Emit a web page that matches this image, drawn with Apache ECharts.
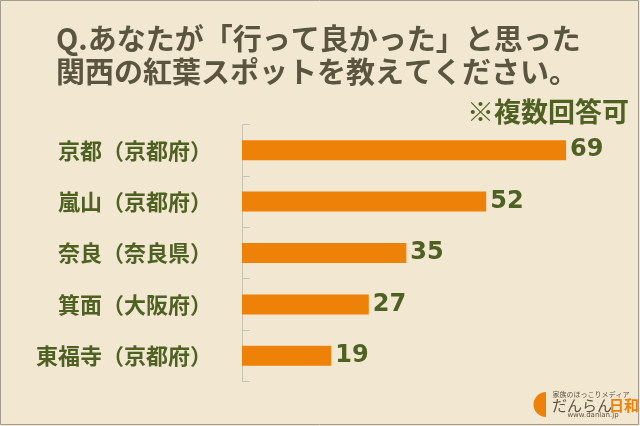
<!DOCTYPE html>
<html>
<head>
<meta charset="utf-8">
<script src="https://cdn.jsdelivr.net/npm/echarts@6/dist/echarts.min.js"></script>
<style>
html,body{margin:0;padding:0;background:#f2e7d1;}
#c{width:640px;height:426px;}
</style>
</head>
<body>
<div id="c"></div>
<script>
const titleLines = ['Q.あなたが「行って良かった」と思った', '関西の紅葉スポットを教えてください。'];
const note = '※複数回答可';
const categories = ['京都（京都府）', '嵐山（京都府）', '奈良（奈良県）', '箕面（大阪府）', '東福寺（京都府）'];
const values = [69, 52, 35, 27, 19];

const green = '#4f6122';
const cjk = '"Noto Sans CJK JP", "Noto Sans", sans-serif';
const chart = echarts.init(document.getElementById('c'), null, {renderer: 'canvas'});
chart.setOption({
  backgroundColor: '#f2e7d1',
  animation: false,
  title: {
    text: titleLines.join('\n'),
    left: 56, top: 22, padding: 0,
    textStyle: {fontFamily: cjk, fontWeight: 'bold', fontSize: 29, lineHeight: 33, color: '#5b5540'}
  },
  grid: {left: 242, top: 124.5, width: 375.7, height: 257, containLabel: false},
  xAxis: {type: 'value', min: 0, max: 80, show: false},
  yAxis: {
    type: 'category', data: categories, inverse: true,
    axisLine: {show: true, lineStyle: {color: '#c9c2b3', width: 1}},
    axisTick: {show: true, inside: true, length: 8, lineStyle: {color: '#c9c2b3'}},
    axisLabel: {margin: 30, fontFamily: cjk, fontWeight: 'bold', fontSize: 22, color: green}
  },
  series: [{
    type: 'bar', data: values, barWidth: 20,
    itemStyle: {color: '#ee8209'},
    label: {show: true, position: 'right', distance: 4,
      fontFamily: '"DejaVu Sans", sans-serif', fontWeight: 'bold', fontSize: 24, color: green}
  }],
  graphic: [
    {type: 'rect', shape: {x: 0.5, y: 0.5, width: 638, height: 424}, style: {fill: null, stroke: '#a29b8e', lineWidth: 1}, silent: true},
    {type: 'text', x: 629, y: 112, style: {text: note, fontFamily: cjk, fontWeight: 'bold', fontSize: 27, fill: green, align: 'right', verticalAlign: 'middle'}},
    {type: 'sector', shape: {cx: 546, cy: 404.5, r: 12.5, r0: 0, startAngle: Math.PI / 2, endAngle: Math.PI * 3 / 2}, style: {fill: '#ee8209'}},
    {type: 'text', x: 591, y: 394, style: {text: '家族のほっこりメディア', fontFamily: cjk, fontSize: 7, fill: '#5b5540', align: 'center', verticalAlign: 'middle'}},
    {type: 'text', x: 552, y: 405, style: {text: 'だんらん', fontFamily: cjk, fontSize: 15, fill: '#5b5540', align: 'left', verticalAlign: 'middle'}},
    {type: 'text', x: 609, y: 405, style: {text: '日和', fontFamily: cjk, fontWeight: 'bold', fontSize: 15, fill: '#ee8209', align: 'left', verticalAlign: 'middle'}},
    {type: 'text', x: 593, y: 415, style: {text: 'www.danlan.jp', fontFamily: '"DejaVu Sans", sans-serif', fontSize: 7, fill: '#5b5540', align: 'center', verticalAlign: 'middle'}}
  ]
});
</script>
</body>
</html>
